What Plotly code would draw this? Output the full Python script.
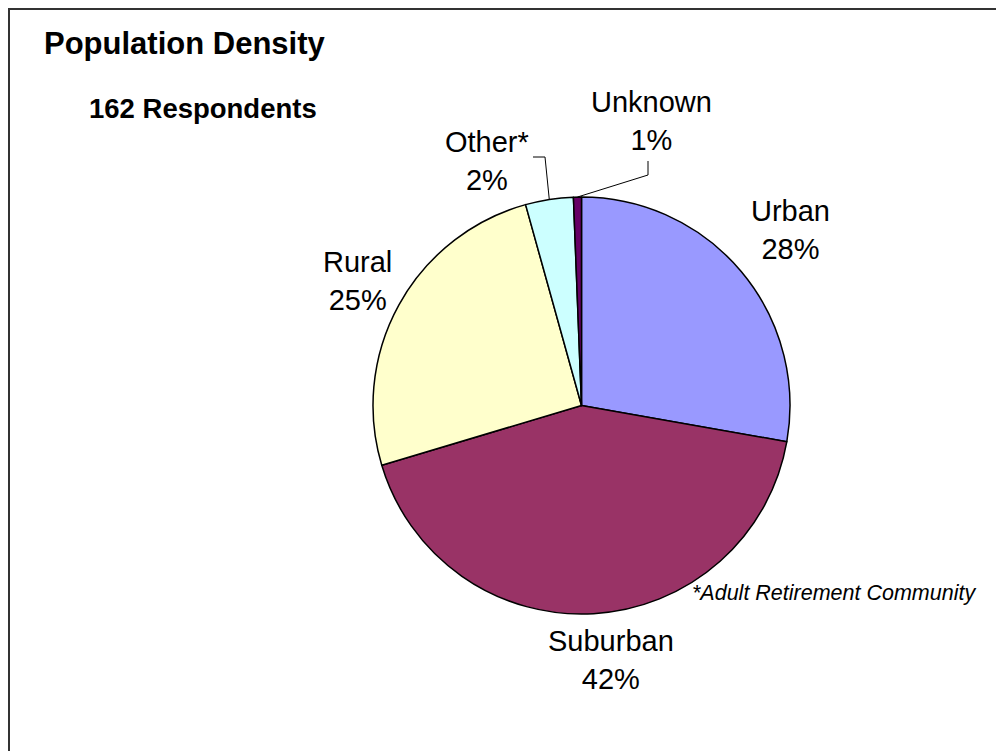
import math
import plotly.graph_objects as go

# ---- data ----
categories = ["Urban", "Suburban", "Rural", "Other*", "Unknown"]
respondents = [45, 69, 41, 6, 1]
pct_labels = ["28%", "42%", "25%", "2%", "1%"]
colors = ["#9999FF", "#993366", "#FFFFCC", "#CCFFFF", "#660066"]
title_text = "Population Density"
subtitle_text = "162 Respondents"
footnote_text = "*Adult Retirement Community"

# ---- layout constants (screen pixels; page body has an 8px margin) ----
W, H = 1004, 751
OFF = 8
CX, CY, R = 581.5, 405.5, 208.5
FONT = "Liberation Sans, Arial, sans-serif"

def px(x):
    return (x - OFF) / W

def py(y):
    return 1 - (y - OFF) / H

fig = go.Figure()
fig.add_trace(go.Pie(
    labels=categories,
    values=respondents,
    marker=dict(colors=colors, line=dict(color="black", width=1.5)),
    sort=False,
    direction="clockwise",
    rotation=0,
    textinfo="none",
    hoverinfo="label+percent",
    showlegend=False,
    domain=dict(x=[px(CX - R), px(CX + R)], y=[py(CY + R), py(CY - R)]),
))

annotations = []
annotations.append(dict(text="<b>" + title_text + "</b>", x=px(42), y=py(44),
                        xanchor="left", yanchor="middle", showarrow=False,
                        font=dict(size=31, color="black", family=FONT)))
annotations.append(dict(text="<b>" + subtitle_text + "</b>", x=px(87), y=py(108),
                        xanchor="left", yanchor="middle", showarrow=False,
                        font=dict(size=27.5, color="black", family=FONT)))
annotations.append(dict(text="<i>" + footnote_text + "</i>", x=px(690), y=py(593),
                        xanchor="left", yanchor="middle", showarrow=False,
                        font=dict(size=21.5, color="black", family=FONT)))

# label centres (screen pixels)
label_pos = [(790, 230), (611, 660), (357, 281), (487, 161), (651, 121)]
for cat, pct, (lx, ly) in zip(categories, pct_labels, label_pos):
    annotations.append(dict(text=cat + "<br>" + pct, x=px(lx), y=py(ly),
                            xanchor="center", yanchor="middle", showarrow=False,
                            align="center",
                            font=dict(size=29, color="black", family=FONT)))

# leader lines for the small slices, starting at slice mid-angle on the rim
total = sum(respondents)
cum = 0
mids = []
for v in respondents:
    mids.append((cum + v / 2) / total * 2 * math.pi)
    cum += v

def rim(a):
    return CX + R * math.sin(a), CY - R * math.cos(a)

shapes = []
# Other*
ox, oy = rim(mids[3])
pts = [(ox, oy), (545, 157), (533, 157)]
path = "M " + " L ".join(f"{px(x)},{py(y)}" for x, y in pts)
shapes.append(dict(type="path", xref="paper", yref="paper", path=path,
                   line=dict(color="black", width=1)))
# Unknown
ux, uy = rim(mids[4])
pts = [(ux, uy), (648, 175), (648, 161)]
path = "M " + " L ".join(f"{px(x)},{py(y)}" for x, y in pts)
shapes.append(dict(type="path", xref="paper", yref="paper", path=path,
                   line=dict(color="black", width=1)))

# outer frame
shapes.append(dict(type="rect", xref="paper", yref="paper",
                   x0=px(9), x1=1.05, y0=-0.05, y1=py(9),
                   line=dict(color="#333333", width=2), fillcolor="rgba(0,0,0,0)"))

fig.update_layout(
    width=W, height=H,
    margin=dict(l=0, r=0, t=0, b=0),
    paper_bgcolor="white",
    plot_bgcolor="white",
    annotations=annotations,
    shapes=shapes,
)

fig.write_html("out.html")
